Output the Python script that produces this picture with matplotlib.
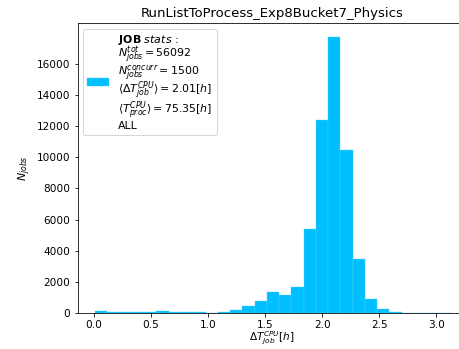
import numpy as np
import matplotlib
matplotlib.use("Agg")
import matplotlib.pyplot as plt

# histogram: bin edges in hours and job counts per bin
bin_start = 0.01
bin_width = 0.1075
counts = [140, 90, 70, 80, 90, 150, 80, 80, 80, 50, 70, 200, 470, 790,
          1370, 1160, 1670, 5400, 12400, 17720, 10480, 3500, 920, 300, 90,
          20, 10, 5, 3]
edges = bin_start + bin_width * np.arange(len(counts) + 1)
y_ticks = [0, 2000, 4000, 6000, 8000, 10000, 12000, 14000, 16000]

title = "RunListToProcess_Exp8Bucket7_Physics"
n_tot = 56092
n_concurr = 1500
mean_job = 2.01
mean_proc = 75.35

label = "\n".join([
    r"$\bf{JOB}$ $\it{stats}$ :",
    r"$N_{jobs}^{tot}=%d$" % n_tot,
    r"$N_{jobs}^{concurr}=%d$" % n_concurr,
    r"$\langle\Delta T_{job}^{CPU}\rangle=%.2f[h]$" % mean_job,
    r"$\langle T_{proc}^{CPU}\rangle=%.2f[h]$" % mean_proc,
    "ALL",
])

plt.rcParams["font.size"] = 11
fig = plt.figure(figsize=(459 / 72, 349 / 72), dpi=72)
ax = fig.add_axes([77.5 / 459, 35.7 / 349, 389.5 / 459, 290.3 / 349])

ax.hist(edges[:-1], bins=edges, weights=counts, color="deepskyblue",
        edgecolor="#4dd2ff", linewidth=0.4, label=label)
ax.set_xlim(-0.145, 3.27)
ax.set_ylim(0, max(counts) * 1.05)
ax.set_yticks(y_ticks)
ax.tick_params(labelsize=10.5)
ax.spines["right"].set_visible(False)
ax.set_title(title, fontsize=13.2)
ax.set_xlabel(r"$\Delta T_{job}^{CPU}[h]$", labelpad=-0.5, fontsize=10.5)
ax.set_ylabel(r"$N_{jobs}$")
leg = ax.legend(loc="upper left")
for t in leg.get_texts():
    t.set_linespacing(0.82)

fig.savefig("out.png", dpi=72)
